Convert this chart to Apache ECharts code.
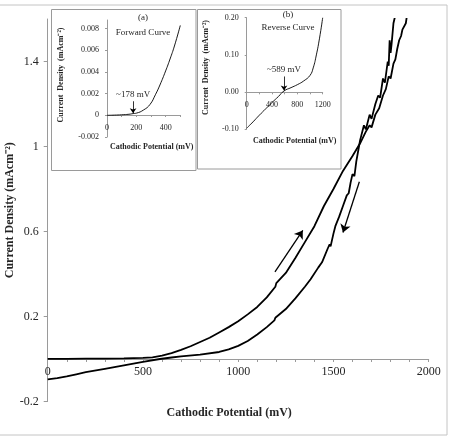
<!DOCTYPE html>
<html>
<head>
<meta charset="utf-8">
<title>Cathodic polarisation</title>
<script src="https://cdn.jsdelivr.net/npm/echarts@6/dist/echarts.min.js"></script>
</head>
<body style="margin:0">
<div id="container" style="width:450px;height:437px"></div>
<script type="text/javascript">
// main plot, [potential mV, current density mA/cm2]
var forwardCurve = [
  [0, 0.001], [100, 0.001], [200, 0.002], [300, 0.002], [400, 0.003], [500, 0.005],
  [550, 0.008], [600, 0.016], [650, 0.028], [700, 0.043], [750, 0.06], [800, 0.08],
  [850, 0.1], [900, 0.125], [950, 0.15], [1000, 0.178], [1050, 0.21], [1100, 0.245],
  [1150, 0.29], [1195, 0.34], [1200, 0.357], [1206, 0.352], [1250, 0.405], [1300, 0.475],
  [1350, 0.55], [1400, 0.625], [1450, 0.72], [1500, 0.8], [1550, 0.885], [1600, 0.955],
  [1640, 1.015], [1670, 1.07], [1690, 1.1], [1700, 1.09], [1720, 1.15], [1740, 1.18],
  [1760, 1.24], [1775, 1.27], [1790, 1.33], [1800, 1.32], [1815, 1.39], [1825, 1.41],
  [1835, 1.46], [1845, 1.5], [1855, 1.52], [1862, 1.55], [1870, 1.555], [1880, 1.58], [1888, 1.63]
];
var reverseCurve = [
  [0, -0.096], [50, -0.09], [100, -0.082], [150, -0.072], [200, -0.062], [300, -0.046],
  [400, -0.03], [500, -0.014], [589, 0], [650, 0.007], [700, 0.012], [800, 0.021],
  [900, 0.033], [950, 0.045], [1000, 0.062], [1050, 0.085], [1100, 0.115], [1150, 0.15],
  [1190, 0.182], [1195, 0.194], [1200, 0.19], [1250, 0.235], [1300, 0.285], [1350, 0.34],
  [1380, 0.375], [1390, 0.37], [1420, 0.43], [1440, 0.455], [1445, 0.45], [1470, 0.52],
  [1480, 0.54], [1485, 0.53], [1500, 0.59], [1510, 0.625], [1515, 0.62], [1530, 0.67],
  [1550, 0.72], [1570, 0.77], [1580, 0.78], [1590, 0.83], [1600, 0.87], [1610, 0.86],
  [1620, 0.93], [1630, 0.98], [1640, 1.03], [1660, 1.1], [1670, 1.08], [1690, 1.15],
  [1700, 1.13], [1720, 1.2], [1735, 1.24], [1745, 1.23], [1760, 1.32], [1770, 1.3],
  [1785, 1.4], [1790, 1.38], [1795, 1.5], [1800, 1.44], [1805, 1.48], [1815, 1.58], [1828, 1.63]
];
// inset (a) forward curve
var insetForward = [
  [0, 0], [50, 0.00002], [100, 0.00005], [150, 0.0001], [178, 0.00016], [200, 0.0002],
  [250, 0.0005], [293, 0.001], [330, 0.0019], [361, 0.0028], [400, 0.0041], [430, 0.0052],
  [460, 0.0064], [500, 0.0083]
];
// inset (b) reverse curve
var insetReverse = [
  [0, -0.097], [100, -0.08], [200, -0.062], [300, -0.045], [400, -0.028], [500, -0.012],
  [589, 0.003], [700, 0.012], [800, 0.02], [900, 0.03], [1000, 0.045], [1050, 0.065],
  [1100, 0.1], [1150, 0.145], [1200, 0.2]
];
var mainYLabels = [-0.2, 0.2, 0.6, 1, 1.4];
var mainXLabels = [0, 500, 1000, 1500, 2000];
var insetAYLabels = [-0.002, 0, 0.002, 0.004, 0.006, 0.008];
var insetAXLabels = [0, 200, 400];
var insetBYLabels = [-0.1, 0, 0.1, 0.2];
var insetBXLabels = [0, 400, 800, 1200];

var serif = 'Liberation Serif';
var axisGray = '#9a9a9a';
var textCol = '#262626';

function ticksEvery(step, max) {
  var out = [];
  for (var v = 0; v <= max + 1e-9; v += step) out.push(v);
  return out;
}
function plain(v) { return String(v); }

var chart = echarts.init(document.getElementById('container'));

// x axes sit on y = 0, so they are pulled up into the grid with a negative offset
chart.setOption({
  backgroundColor: '#fff',
  animation: false,
  grid: [
    {left: 47.7, right: 21.3, top: 19, bottom: 35.5, outerBoundsMode: 'none'},
    {left: 107, top: 20, width: 73.3, height: 117, outerBoundsMode: 'none'},
    {left: 246.7, top: 17.7, width: 76, height: 111.6, outerBoundsMode: 'none'}
  ],
  xAxis: [{
    gridIndex: 0, type: 'value', min: 0, max: 2000, offset: -42.5,
    name: 'Cathodic Potential (mV)', nameLocation: 'middle', nameGap: 48, nameMoveOverlap: false,
    nameTextStyle: {fontFamily: serif, fontWeight: 'bold', fontSize: 12, color: textCol, padding: [0, 18, 0, 0]},
    axisLine: {onZero: false, lineStyle: {color: axisGray}},
    axisTick: {customValues: ticksEvery(100, 2000), length: 3, lineStyle: {color: axisGray}},
    axisLabel: {customValues: mainXLabels, fontFamily: serif, fontSize: 12, color: textCol, margin: 7, formatter: plain},
    splitLine: {show: false}
  }, {
    gridIndex: 1, type: 'value', min: 0, max: 500, offset: -22,
    name: 'Cathodic Potential (mV)', nameLocation: 'middle', nameGap: 28, nameMoveOverlap: false,
    nameTextStyle: {fontFamily: serif, fontWeight: 'bold', fontSize: 8, color: textCol, padding: [0, 0, 0, 16]},
    axisLine: {onZero: false, lineStyle: {color: axisGray}},
    axisTick: {customValues: ticksEvery(100, 500), length: 2, lineStyle: {color: axisGray}},
    axisLabel: {customValues: insetAXLabels, fontFamily: serif, fontSize: 8, color: textCol, margin: 9, formatter: plain},
    splitLine: {show: false}
  }, {
    gridIndex: 2, type: 'value', min: 0, max: 1200, offset: -37,
    name: 'Cathodic Potential (mV)', nameLocation: 'middle', nameGap: 45, nameMoveOverlap: false,
    nameTextStyle: {fontFamily: serif, fontWeight: 'bold', fontSize: 8, color: textCol, padding: [0, 0, 0, 20]},
    axisLine: {onZero: false, lineStyle: {color: axisGray}},
    axisTick: {customValues: ticksEvery(200, 1200), length: 2, lineStyle: {color: axisGray}},
    axisLabel: {customValues: insetBXLabels, fontFamily: serif, fontSize: 8, color: textCol, margin: 9, formatter: plain},
    splitLine: {show: false}
  }],
  yAxis: [{
    gridIndex: 0, type: 'value', min: -0.2, max: 1.6,
    name: 'Current Density (mAcm⁻²)', nameLocation: 'middle', nameGap: 32, nameMoveOverlap: false,
    nameTextStyle: {fontFamily: serif, fontWeight: 'bold', fontSize: 12, color: textCol},
    axisLine: {show: true, lineStyle: {color: axisGray}},
    axisTick: {show: true, customValues: mainYLabels, length: 4, lineStyle: {color: axisGray}},
    axisLabel: {customValues: mainYLabels, fontFamily: serif, fontSize: 12, color: textCol, margin: 9,
      formatter: function (v) { return String(Math.round(v * 10) / 10); }},
    splitLine: {show: false}
  }, {
    gridIndex: 1, type: 'value', min: -0.002, max: 0.0088,
    name: 'Current  Density  (mAcm⁻²)', nameLocation: 'middle', nameGap: 42, nameMoveOverlap: false,
    nameTextStyle: {fontFamily: serif, fontWeight: 'bold', fontSize: 8, color: textCol, padding: [0, 0, 0, 7]},
    axisLine: {show: true, lineStyle: {color: axisGray}},
    axisTick: {show: true, customValues: insetAYLabels, length: 2, lineStyle: {color: axisGray}},
    axisLabel: {customValues: insetAYLabels, fontFamily: serif, fontSize: 8, color: textCol, margin: 8,
      formatter: function (v) { return Math.abs(v) < 1e-9 ? '0' : v.toFixed(3); }},
    splitLine: {show: false}
  }, {
    gridIndex: 2, type: 'value', min: -0.1, max: 0.2,
    name: 'Current  Density  (mAcm⁻²)', nameLocation: 'middle', nameGap: 37, nameMoveOverlap: false,
    nameTextStyle: {fontFamily: serif, fontWeight: 'bold', fontSize: 8, color: textCol, padding: [0, 0, 0, 12]},
    axisLine: {show: true, lineStyle: {color: axisGray}},
    axisTick: {show: true, customValues: insetBYLabels, length: 2, lineStyle: {color: axisGray}},
    axisLabel: {customValues: insetBYLabels, fontFamily: serif, fontSize: 8, color: textCol, margin: 8,
      formatter: function (v) { return v.toFixed(2); }},
    splitLine: {show: false}
  }],
  series: [{
    name: 'Forward', type: 'line', xAxisIndex: 0, yAxisIndex: 0, data: forwardCurve,
    showSymbol: false, clip: true, lineStyle: {color: '#000', width: 1.8},
    markLine: {
      silent: true, symbol: ['none', 'arrow'], symbolSize: 8,
      lineStyle: {color: '#000', width: 1.3, type: 'solid'}, label: {show: false},
      data: [
        [{coord: [1193, 0.41]}, {coord: [1339, 0.605]}],
        [{coord: [1636, 0.834]}, {coord: [1550, 0.595]}]
      ]
    }
  }, {
    name: 'Reverse', type: 'line', xAxisIndex: 0, yAxisIndex: 0, data: reverseCurve,
    showSymbol: false, clip: true, lineStyle: {color: '#000', width: 1.8}
  }, {
    name: 'Forward Curve', type: 'line', xAxisIndex: 1, yAxisIndex: 1, data: insetForward,
    showSymbol: false, smooth: true, lineStyle: {color: '#000', width: 0.9},
    markLine: {
      silent: true, symbol: ['none', 'arrow'], symbolSize: 5,
      lineStyle: {color: '#000', width: 0.8, type: 'solid'},
      label: {position: 'start', formatter: '~178 mV', fontFamily: serif, fontSize: 9, color: textCol, distance: 2},
      data: [[{coord: [178, 0.0013]}, {coord: [178, 0.0002]}]]
    }
  }, {
    name: 'Reverse Curve', type: 'line', xAxisIndex: 2, yAxisIndex: 2, data: insetReverse,
    showSymbol: false, smooth: true, lineStyle: {color: '#000', width: 0.9},
    markLine: {
      silent: true, symbol: ['none', 'arrow'], symbolSize: 5,
      lineStyle: {color: '#000', width: 0.8, type: 'solid'},
      label: {position: 'start', formatter: '~589 mV', fontFamily: serif, fontSize: 9, color: textCol, distance: 2},
      data: [[{coord: [589, 0.042]}, {coord: [589, 0.004]}]]
    }
  }],
  graphic: [
    {type: 'rect', silent: true, shape: {x: -2, y: 5, width: 449, height: 430},
      style: {fill: 'none', stroke: '#c4c4c4', lineWidth: 1}},
    {type: 'rect', silent: true, shape: {x: 51.5, y: 9.5, width: 144.5, height: 161},
      style: {fill: 'none', stroke: '#9a9a9a', lineWidth: 1}},
    {type: 'rect', silent: true, shape: {x: 197.5, y: 9.5, width: 143.5, height: 159.5},
      style: {fill: 'none', stroke: '#9a9a9a', lineWidth: 1}},
    {type: 'text', silent: true, x: 143, y: 18, style: {text: '(a)', font: '9px "Liberation Serif"', fill: textCol, align: 'center', verticalAlign: 'middle'}},
    {type: 'text', silent: true, x: 143, y: 33, style: {text: 'Forward Curve', font: '9px "Liberation Serif"', fill: textCol, align: 'center', verticalAlign: 'middle'}},
    {type: 'text', silent: true, x: 288, y: 15, style: {text: '(b)', font: '9px "Liberation Serif"', fill: textCol, align: 'center', verticalAlign: 'middle'}},
    {type: 'text', silent: true, x: 288, y: 28, style: {text: 'Reverse Curve', font: '9px "Liberation Serif"', fill: textCol, align: 'center', verticalAlign: 'middle'}}
  ]
});
</script>
</body>
</html>
